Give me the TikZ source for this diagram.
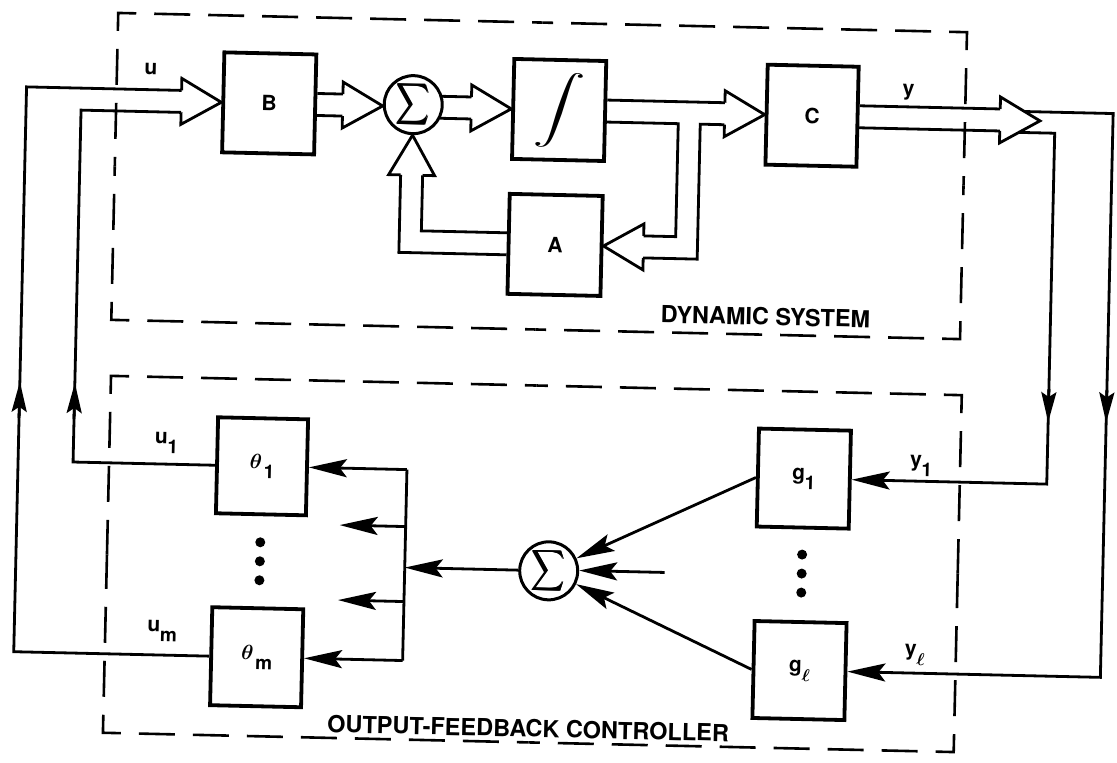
\documentclass[tikz,border=0pt]{standalone}
\usepackage{fontspec}
\setmainfont{TeX Gyre Heros}
\usepackage{amsmath}
\usepackage{graphicx}
\usetikzlibrary{arrows.meta,calc}

\newcommand\lowr[1]{\raisebox{-10pt}{\fontsize{19}{19}\selectfont #1}}

\begin{document}
\begin{tikzpicture}[x=1pt,y=-1pt,
  ln/.style={line width=2.8pt},
  flow/.style={ln,-{Stealth[length=38pt,width=18pt,inset=7pt]}},
  vflow/.style={ln,-{Stealth[length=30pt,width=15pt,inset=5pt]}},
  blk/.style={draw,line width=3.8pt,inner sep=0pt,font=\bfseries\fontsize{21}{21}\selectfont},
  sumnode/.style={draw,circle,line width=3pt,minimum size=58pt,inner sep=0pt},
  lbl/.style={inner sep=0pt,font=\bfseries\fontsize{21}{21}\selectfont},
  boxtitle/.style={inner sep=0pt,font=\bfseries\fontsize{23.5}{23.5}\selectfont},
  dashbox/.style={line width=2.6pt,dash pattern=on 36pt off 18pt},
  pics/bushead/.style={code={\draw[ln] (-40,-11) -- (-40,-23) -- (0,0) -- (-40,23) -- (-40,11);}}]
\path[use as bounding box] (0,0) rectangle (1117,763);
\begin{scope}[rotate around={-1.3:(558,381)},transform shape]
% dashed frames, drawn corner by corner
\draw[dashbox,dash phase=26.5pt] (110,176.5) -- (110,23) -- (534.5,23);
\draw[dashbox,dash phase=25.5pt] (534.5,23) -- (959,23) -- (959,176.5);
\draw[dashbox,dash phase=26.5pt] (959,176.5) -- (959,330) -- (534.5,330);
\draw[dashbox,dash phase=25.5pt] (534.5,330) -- (110,330) -- (110,176.5);
\draw[dashbox,dash phase=1.5pt] (111,564.5) -- (111,386) -- (536.5,386);
\draw[dashbox,dash phase=24.5pt] (536.5,386) -- (962,386) -- (962,564.5);
\draw[dashbox,dash phase=1.5pt] (962,564.5) -- (962,743) -- (536.5,743);
\draw[dashbox,dash phase=24.5pt] (536.5,743) -- (111,743) -- (111,564.5);

% dynamic system
\node[blk,minimum width=92pt,minimum height=100pt] (B) at (263,110) {B};
\node[sumnode] (sT) at (407,108) {\scalebox{2.3}[2.85]{$\pmb{\displaystyle\sum}$}};
\node[blk,minimum width=92pt,minimum height=100pt] (int) at (553,110) {\scalebox{2.5}[1.62]{$\displaystyle\int$}};
\node[blk,minimum width=91pt,minimum height=100pt] (C) at (806,110) {C};
\node[blk,minimum width=93pt,minimum height=100pt] (A) at (552,245) {A};
\coordinate (ytip) at (1034,110);

% controller
\node[blk,minimum width=90pt,minimum height=96pt] (th1) at (264,473) {$\boldsymbol{\theta}$\hspace{2pt}\lowr{1}};
\node[blk,minimum width=91pt,minimum height=98pt] (thm) at (263,664) {$\boldsymbol{\theta}$\hspace{2pt}\lowr{m}};
\node[blk,minimum width=92pt,minimum height=98pt] (g1) at (806,473) {g\lowr{1}};
\node[blk,minimum width=92pt,minimum height=97pt] (gl) at (806,665) {g\lowr{$\boldsymbol{\ell}$}};
\node[sumnode] (sB) at (553,571) {\scalebox{2.3}[2.85]{$\pmb{\displaystyle\sum}$}};
\coordinate (bt) at (409,473);
\coordinate (bb) at (409,664);
\coordinate (s1) at (343,530);
\coordinate (s2) at (343,605);
\coordinate (sin) at (669,570);
\coordinate (uo) at (20,99);
\coordinate (ui) at (75,121);
\coordinate (yin) at (1049,473);
\coordinate (yout) at (1107,665);

% labels
\node[lbl] (lu) at (144,78) {u};
\node[lbl] (ly) at (902,84) {y};
\node[lbl] (lu1) at (168,452) {u\lowr{1}};
\node[lbl] (lum) at (168,640) {u\lowr{m}};
\node[lbl] (ly1) at (923,458) {y\lowr{1}};
\node[lbl] (lyl) at (921,647) {y\lowr{$\boldsymbol{\ell}$}};
\node[boxtitle] (ds) at (764,312) {DYNAMIC SYSTEM};
\node[boxtitle] (ofc) at (536,729) {OUTPUT-FEEDBACK CONTROLLER};

% input bus to B
\draw[ln] (thm.west) -| (uo) -- ($(B.west)+(-40,-11)$);
\draw[ln] (th1.west) -| (ui) -- ($(B.west)+(-40,11)$);
\pic at (B.west) {bushead};
\draw[vflow] (20,430) -- (20,394);
\draw[vflow] (75,430) -- (75,394);

% B to sum
\draw[ln] ($(B.east)+(0,-11)$) -- ($(sT.west |- B.west)+(-40,-11)$);
\draw[ln] ($(B.east)+(0,11)$) -- ($(sT.west |- B.west)+(-40,11)$);
\pic at (sT.west |- B.west) {bushead};

% sum to integrator
\draw[ln] ($(sT.center |- B.west)+(27,-11)$) -- ($(int.west)+(-40,-11)$);
\draw[ln] ($(sT.center |- B.west)+(27,11)$) -- ($(int.west)+(-40,11)$);
\pic at (int.west) {bushead};

% integrator to C and A
\draw[ln] ($(int.east)+(0,-11)$) -- ($(C.west)+(-40,-11)$);
\draw[ln] ($(int.east)+(0,11)$) -| ($(A.east)+(72,-11)$) -- ($(A.east)+(40,-11)$);
\draw[ln] ($(C.west)+(-40,11)$) -| ($(A.east)+(94,11)$) -- ($(A.east)+(40,11)$);
\pic at (C.west) {bushead};
\pic[rotate=180] at (A.east) {bushead};

% A back to sum
\draw[ln] ($(A.west)+(0,-11)$) -| ($(sT.south)+(11,40)$);
\draw[ln] ($(A.west)+(0,11)$) -| ($(sT.south)+(-11,40)$);
\pic[rotate=90] at (sT.south) {bushead};

% output bus
\draw[ln] ($(C.east)+(0,-11)$) -- ($(ytip)+(-40,-11)$);
\draw[ln] ($(C.east)+(0,11)$) -- ($(ytip)+(-40,11)$);
\pic at (ytip) {bushead};
\draw[flow] ($(ytip)+(-16,-9)$) -| (yout) -- (gl.east);
\draw[flow] ($(ytip)+(-21,12)$) -| (yin) -- (g1.east);
\draw[vflow] (1049,378) -- (1049,411);
\draw[vflow] (1107,378) -- (1107,410);

% controller
\draw[flow] (g1.west) -- (sB);
\draw[flow] (gl.west) -- (sB);
\draw[flow] (sin) -- (sin -| sB.east);
\draw[flow] (sB.west) -- (sB.west -| bt);
\draw[ln] (bt) -- (bb);
\draw[flow] (bt) -- (th1.east);
\draw[flow] (bb) -- (thm.east);
\draw[flow] (s1 -| bt) -- (s1);
\draw[flow] (s2 -| bt) -- (s2);
\foreach \yy in {549,568,587} {
  \fill (264,\yy) circle (5pt);
  \fill (806,\yy) circle (5pt);
}
\end{scope}
\end{tikzpicture}
\end{document}
